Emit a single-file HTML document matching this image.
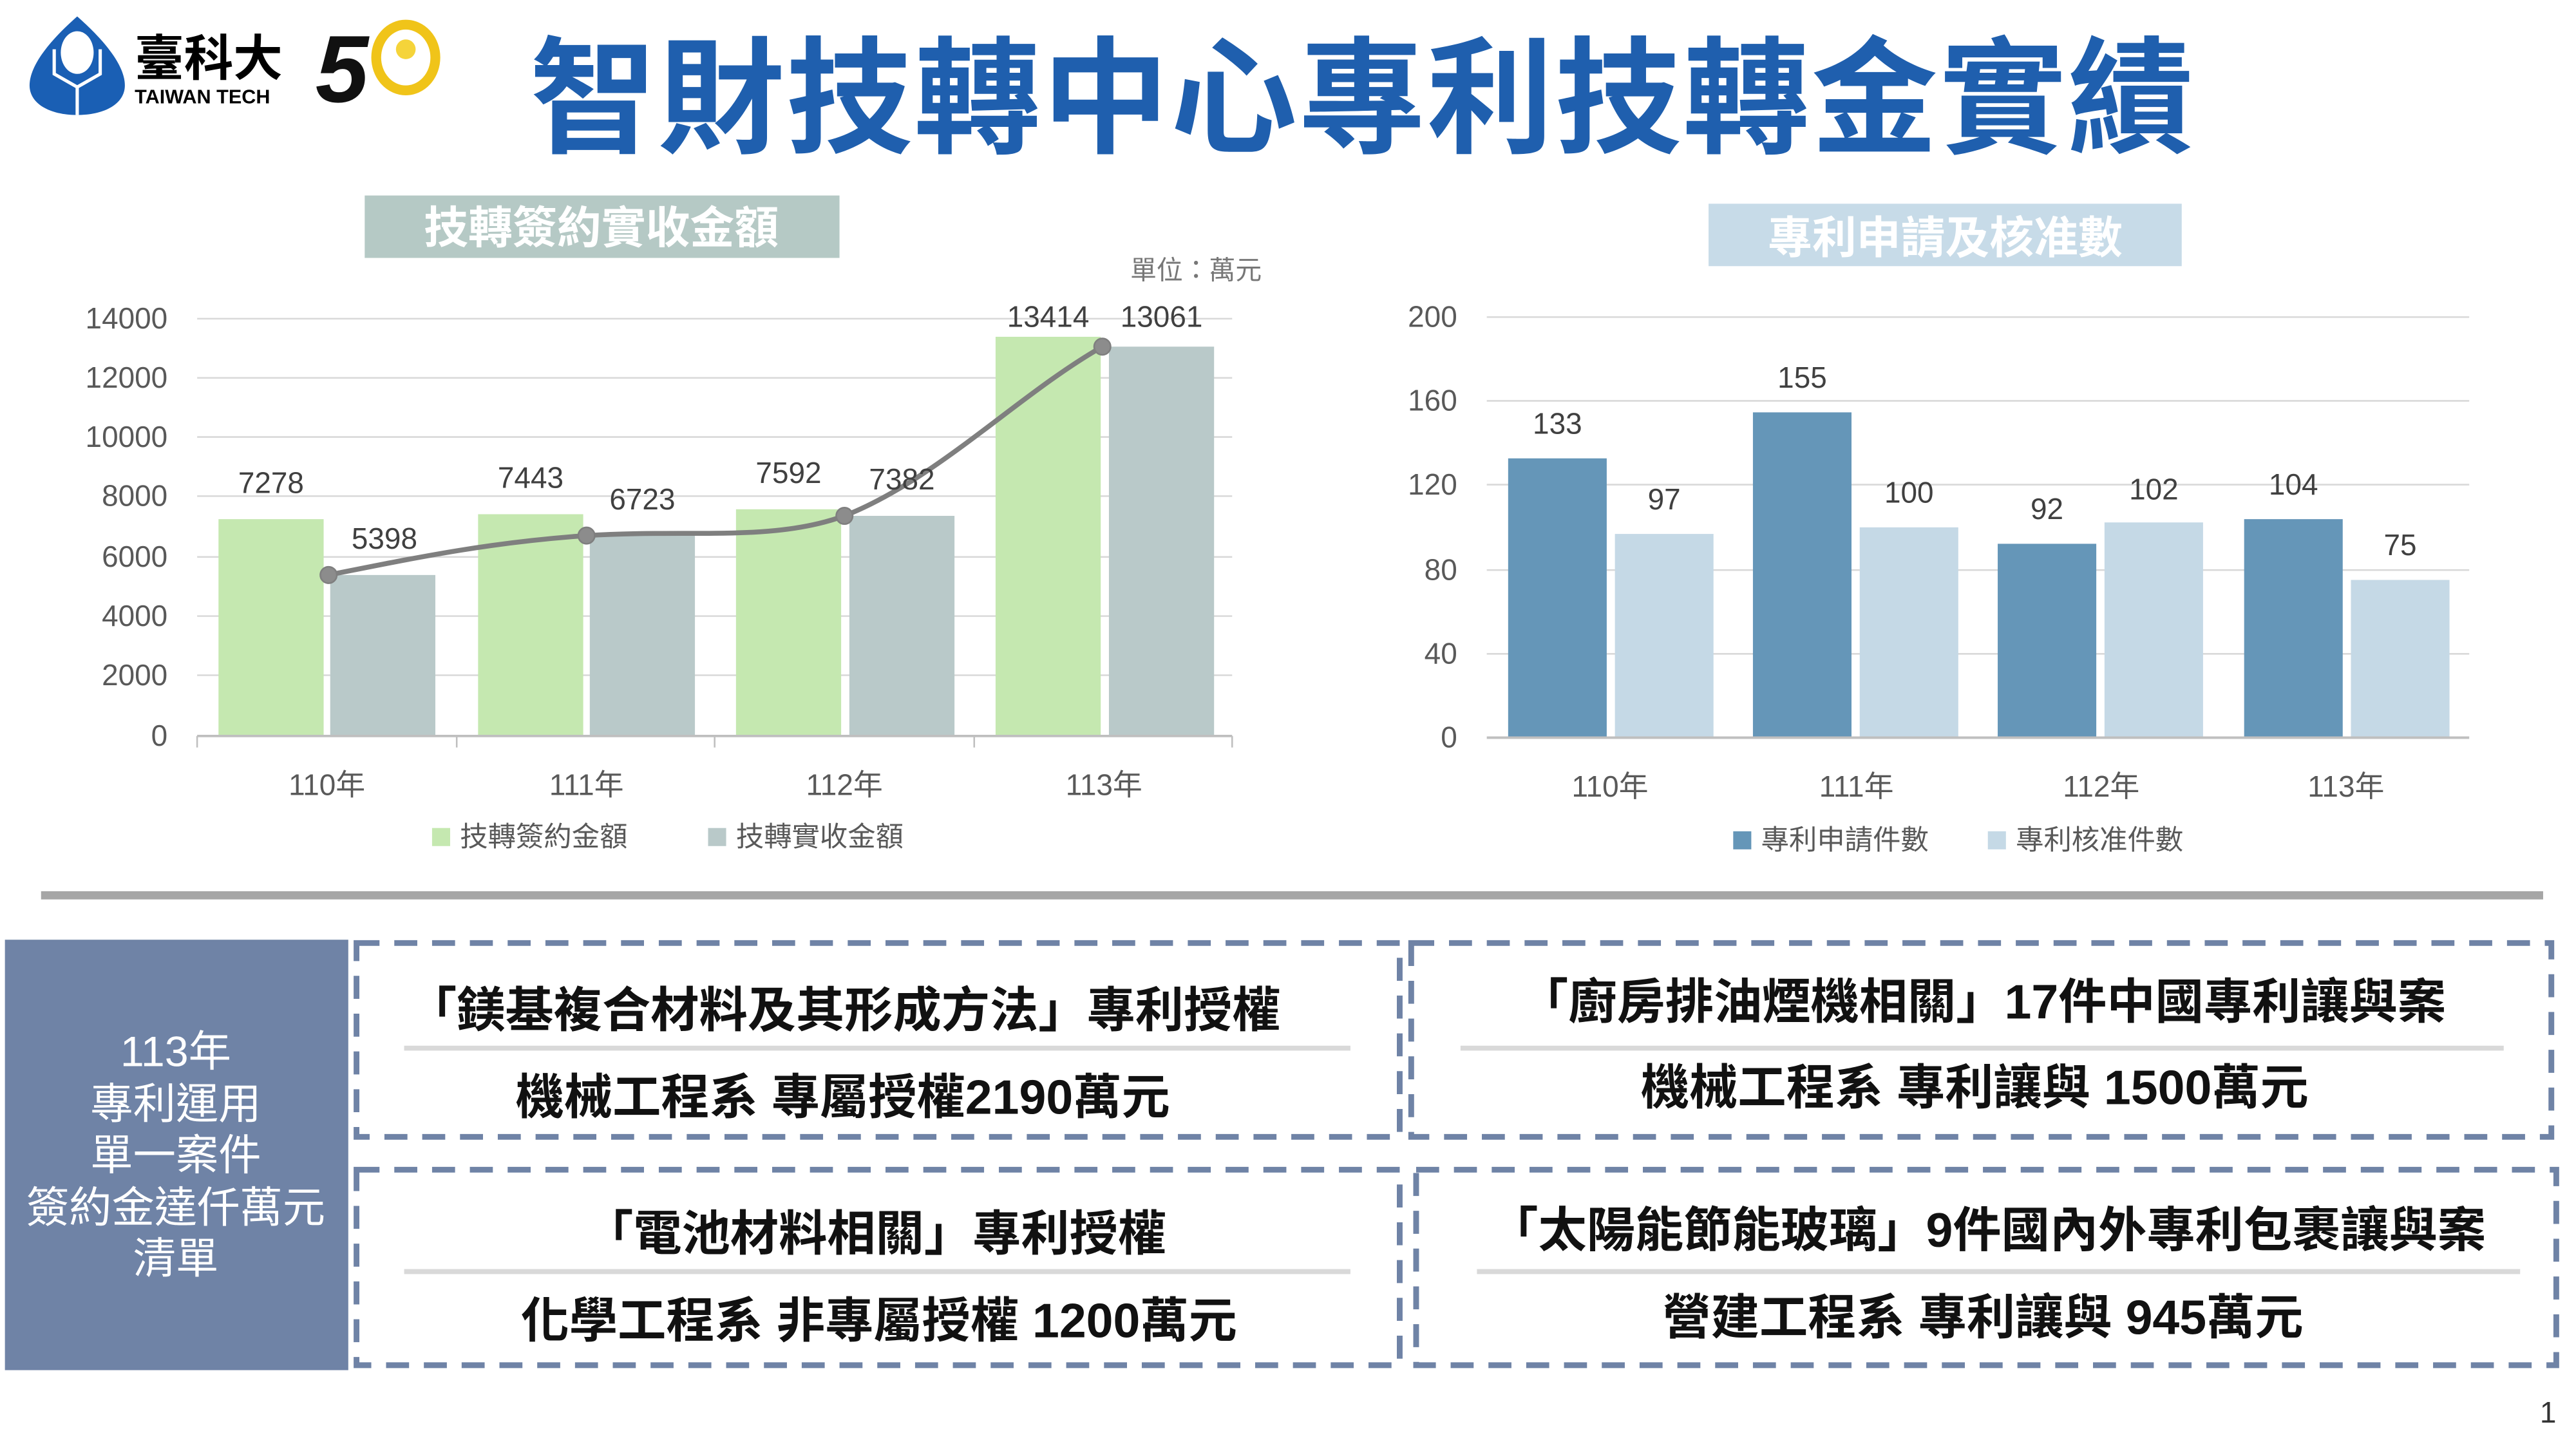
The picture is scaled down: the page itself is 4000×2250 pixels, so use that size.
<!DOCTYPE html>
<html><head><meta charset="utf-8"><style>
html,body{margin:0;padding:0;background:#fff;}
svg{display:block;}
text{font-family:"Liberation Sans","Noto Sans CJK TC",sans-serif;}
</style></head><body>
<svg width="4000" height="2250" viewBox="0 0 1568 882" preserveAspectRatio="none" xmlns="http://www.w3.org/2000/svg">
<rect width="1568" height="882" fill="#fff"/>
<!-- logo -->
<path d="M47 10 C30 25 18 40 18 52 C18 63 30 70 47 70 C64 70 76 63 76 52 C76 40 64 25 47 10Z" fill="#1a5fb4"/>
<ellipse cx="47" cy="32" rx="10" ry="13" fill="#fff"/>
<path d="M33 30 L33 45 L47 53 L61 45 L61 30" fill="none" stroke="#fff" stroke-width="2"/>
<line x1="47" y1="53" x2="47" y2="70" stroke="#fff" stroke-width="2"/>
<text x="82" y="46" font-size="30" font-weight="bold" fill="#000" font-family="Noto Serif CJK SC,serif">臺科大</text>
<text x="82" y="63" font-size="12" font-weight="bold" fill="#000">TAIWAN TECH</text>
<text x="192" y="62" font-size="58" font-weight="bold" font-style="italic" fill="#111">5</text>
<ellipse cx="247" cy="35" rx="18" ry="20" fill="none" stroke="#f0c419" stroke-width="6"/>
<circle cx="247" cy="30" r="6" fill="#f5d43a"/>
<!-- title -->
<text x="829" y="87" text-anchor="middle" font-size="77" font-weight="bold" fill="#1f5fae" font-family="Noto Sans CJK TC,sans-serif" textLength="1013" lengthAdjust="spacing">智財技轉中心專利技轉金實績</text>
<!-- left header -->
<rect x="222" y="119" width="289" height="38" fill="#b5c9c5"/>
<text x="366" y="148" text-anchor="middle" font-size="27" font-weight="bold" fill="#fff">技轉簽約實收金額</text>
<text x="728" y="170" text-anchor="middle" font-size="16" fill="#777">單位：萬元</text>
<!-- left chart grid -->
<g stroke="#d9d9d9" stroke-width="1">
<line x1="120" y1="194" x2="750" y2="194"/><line x1="120" y1="230" x2="750" y2="230"/>
<line x1="120" y1="266" x2="750" y2="266"/><line x1="120" y1="302" x2="750" y2="302"/>
<line x1="120" y1="339" x2="750" y2="339"/><line x1="120" y1="375" x2="750" y2="375"/>
<line x1="120" y1="411" x2="750" y2="411"/>
</g>
<g font-size="18" fill="#595959" text-anchor="end">
<text x="102" y="200">14000</text><text x="102" y="236">12000</text><text x="102" y="272">10000</text>
<text x="102" y="308">8000</text><text x="102" y="345">6000</text><text x="102" y="381">4000</text>
<text x="102" y="417">2000</text><text x="102" y="454">0</text>
</g>
<g fill="#c5e8b0">
<rect x="133" y="316" width="64" height="132"/><rect x="291" y="313" width="64" height="135"/>
<rect x="448" y="310" width="64" height="138"/><rect x="606" y="205" width="64" height="243"/>
</g>
<g fill="#b9c9c9">
<rect x="201" y="350" width="64" height="98"/><rect x="359" y="326" width="64" height="122"/>
<rect x="517" y="314" width="64" height="134"/><rect x="675" y="211" width="64" height="237"/>
</g>
<line x1="120" y1="448" x2="750" y2="448" stroke="#bfbfbf" stroke-width="1.5"/>
<g stroke="#bfbfbf"><line x1="120" y1="448" x2="120" y2="455"/><line x1="278" y1="448" x2="278" y2="455"/><line x1="435" y1="448" x2="435" y2="455"/><line x1="593" y1="448" x2="593" y2="455"/><line x1="750" y1="448" x2="750" y2="455"/></g>
<path d="M200 350 C260 338 300 330 357 326 C420 322 470 330 514 314 C570 292 620 240 671 211" fill="none" stroke="#7f7f7f" stroke-width="3"/>
<g fill="#8c8c8c" stroke="#7f7f7f"><circle cx="200" cy="350" r="5"/><circle cx="357" cy="326" r="5"/><circle cx="514" cy="314" r="5"/><circle cx="671" cy="211" r="5"/></g>
<g font-size="18" fill="#404040" text-anchor="middle">
<text x="165" y="300">7278</text><text x="234" y="334">5398</text>
<text x="323" y="297">7443</text><text x="391" y="310">6723</text>
<text x="480" y="294">7592</text><text x="549" y="298">7382</text>
<text x="638" y="199">13414</text><text x="707" y="199">13061</text>
</g>
<g font-size="18" fill="#595959" text-anchor="middle">
<text x="199" y="484">110年</text><text x="357" y="484">111年</text><text x="514" y="484">112年</text><text x="672" y="484">113年</text>
</g>
<rect x="263" y="504" width="11" height="11" fill="#c5e8b0"/>
<text x="280" y="515" font-size="17" fill="#595959">技轉簽約金額</text>
<rect x="431" y="504" width="11" height="11" fill="#b9c9c9"/>
<text x="448" y="515" font-size="17" fill="#595959">技轉實收金額</text>
<!-- right chart -->
<rect x="1040" y="124" width="288" height="38" fill="#c7dbe8"/>
<text x="1184" y="154" text-anchor="middle" font-size="27" font-weight="bold" fill="#fff">專利申請及核准數</text>
<g stroke="#d9d9d9" stroke-width="1">
<line x1="905" y1="193" x2="1503" y2="193"/><line x1="905" y1="244" x2="1503" y2="244"/>
<line x1="905" y1="295" x2="1503" y2="295"/><line x1="905" y1="347" x2="1503" y2="347"/>
<line x1="905" y1="398" x2="1503" y2="398"/>
</g>
<g font-size="18" fill="#595959" text-anchor="end">
<text x="887" y="199">200</text><text x="887" y="250">160</text><text x="887" y="301">120</text>
<text x="887" y="353">80</text><text x="887" y="404">40</text><text x="887" y="455">0</text>
</g>
<g fill="#6596b8">
<rect x="918" y="279" width="60" height="170"/><rect x="1067" y="251" width="60" height="198"/>
<rect x="1216" y="331" width="60" height="118"/><rect x="1366" y="316" width="60" height="133"/>
</g>
<g fill="#c5d9e6">
<rect x="983" y="325" width="60" height="124"/><rect x="1132" y="321" width="60" height="128"/>
<rect x="1281" y="318" width="60" height="131"/><rect x="1431" y="353" width="60" height="96"/>
</g>
<line x1="905" y1="449" x2="1503" y2="449" stroke="#bfbfbf" stroke-width="1.5"/>
<g font-size="18" fill="#404040" text-anchor="middle">
<text x="948" y="264">133</text><text x="1013" y="310">97</text>
<text x="1097" y="236">155</text><text x="1162" y="306">100</text>
<text x="1246" y="316">92</text><text x="1311" y="304">102</text>
<text x="1396" y="301">104</text><text x="1461" y="338">75</text>
</g>
<g font-size="18" fill="#595959" text-anchor="middle">
<text x="980" y="485">110年</text><text x="1130" y="485">111年</text><text x="1279" y="485">112年</text><text x="1428" y="485">113年</text>
</g>
<rect x="1055" y="506" width="11" height="11" fill="#6596b8"/>
<text x="1072" y="517" font-size="17" fill="#595959">專利申請件數</text>
<rect x="1210" y="506" width="11" height="11" fill="#c5d9e6"/>
<text x="1227" y="517" font-size="17" fill="#595959">專利核准件數</text>
<!-- separator -->
<line x1="25" y1="545" x2="1548" y2="545" stroke="#a6a6a6" stroke-width="5"/>
<!-- left panel -->
<rect x="3" y="572" width="209" height="262" fill="#6f83a6"/>
<g font-size="26" fill="#fff" text-anchor="middle">
<text x="107" y="649">113年</text><text x="107" y="681">專利運用</text><text x="107" y="712">單一案件</text>
<text x="107" y="744">簽約金達仟萬元</text><text x="107" y="775">清單</text>
</g>
<!-- dashed boxes -->
<g fill="none" stroke="#6f83a6" stroke-width="3.5" stroke-dasharray="14 9">
<rect x="217" y="574" width="635" height="118"/>
<rect x="859" y="574" width="694" height="118"/>
<rect x="217" y="712" width="635" height="119"/>
<rect x="862" y="712" width="694" height="119"/>
</g>
<g stroke="#d9d9d9" stroke-width="3">
<line x1="246" y1="638" x2="822" y2="638"/><line x1="889" y1="638" x2="1524" y2="638"/>
<line x1="246" y1="774" x2="822" y2="774"/><line x1="899" y1="774" x2="1534" y2="774"/>
</g>
<g font-size="29.5" font-weight="bold" fill="#111" text-anchor="middle">
<text x="514" y="625">「鎂基複合材料及其形成方法」專利授權</text>
<text x="513" y="678">機械工程系 專屬授權2190萬元</text>
<text x="1207" y="620">「廚房排油煙機相關」17件中國專利讓與案</text>
<text x="1202" y="672">機械工程系 專利讓與 1500萬元</text>
<text x="533" y="761">「電池材料相關」專利授權</text>
<text x="535" y="814">化學工程系 非專屬授權 1200萬元</text>
<text x="1210" y="759">「太陽能節能玻璃」9件國內外專利包裹讓與案</text>
<text x="1207" y="812">營建工程系 專利讓與 945萬元</text>
</g>
<text x="1551" y="866" font-size="18" fill="#333" text-anchor="middle">1</text>
</svg>
</body></html>
